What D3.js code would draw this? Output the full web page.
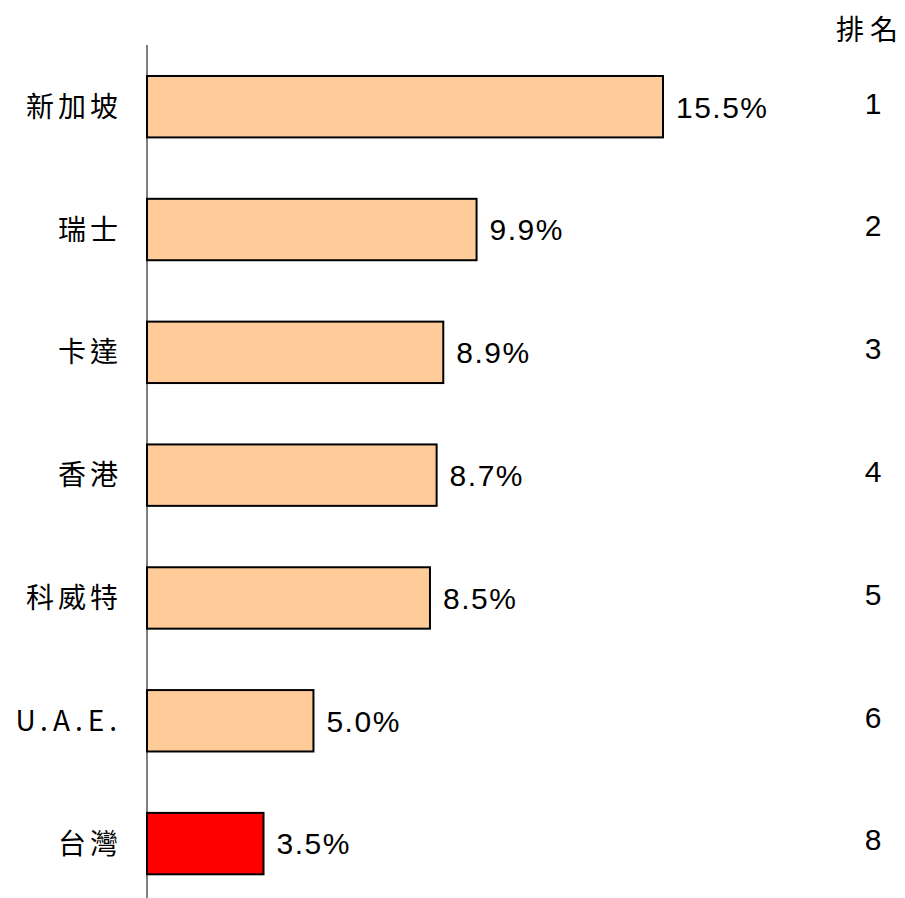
<!DOCTYPE html>
<html>
<head>
<meta charset="utf-8">
<script src="https://cdn.jsdelivr.net/npm/d3@7"></script>
<style>
  html, body { margin: 0; padding: 0; background: #fff; }
  svg { display: block; }
</style>
</head>
<body>
<svg id="chart" width="905" height="898"></svg>
<script>
// Data
const countries = ["新加坡", "瑞士", "卡達", "香港", "科威特", "U.A.E.", "台灣"];
const shares = [15.5, 9.9, 8.9, 8.7, 8.5, 5.0, 3.5];
const ranks = ["1", "2", "3", "4", "5", "6", "8"];
const highlight = "台灣";

const svg = d3.select("#chart");
const W = 905, H = 898;

const x = d3.scaleLinear().domain([0, 16]).range([147, 147 + 16 * 33.29]);
const y = d3.scaleBand().domain(countries).range([45.3, 905]).paddingInner(0.5).paddingOuter(0.25);

const cjk = "'Noto Sans CJK TC', 'Noto Sans CJK SC', sans-serif";
const latin = "'Liberation Sans', Arial, Helvetica, sans-serif";

const rows = countries.map((c, i) => ({ c, v: shares[i], r: ranks[i] }));

// Bars
svg.selectAll("rect.bar").data(rows).join("rect")
  .attr("class", "bar")
  .attr("x", x(0))
  .attr("y", d => y(d.c))
  .attr("width", d => x(d.v) - x(0))
  .attr("height", y.bandwidth())
  .attr("fill", d => d.c === highlight ? "#FF0000" : "#FFCC99")
  .attr("stroke", "#000")
  .attr("stroke-width", 2);

// Vertical axis line
svg.append("line")
  .attr("x1", x(0)).attr("x2", x(0))
  .attr("y1", 45).attr("y2", H)
  .attr("stroke", "#000").attr("stroke-width", 1);

// Category labels
svg.selectAll("text.cat").data(rows).join("text")
  .attr("class", "cat")
  .attr("x", 122)
  .attr("y", d => y(d.c) + y.bandwidth() / 2)
  .attr("dy", "0.36em")
  .attr("text-anchor", "end")
  .attr("font-family", cjk)
  .attr("font-size", 28)
  .attr("letter-spacing", d => d.c === "U.A.E." ? 5 : 4)
  .attr("fill", "#000")
  .text(d => d.c);

// Value labels
svg.selectAll("text.val").data(rows).join("text")
  .attr("class", "val")
  .attr("x", d => x(d.v) + 13)
  .attr("y", d => y(d.c) + y.bandwidth() / 2)
  .attr("dy", "0.36em")
  .attr("font-family", latin)
  .attr("font-size", 30)
  .attr("letter-spacing", 1.5)
  .attr("fill", "#000")
  .text(d => d3.format(".1f")(d.v) + "%");

// Rank column
svg.append("text")
  .attr("x", 836).attr("y", 30)
  .attr("dy", "0.36em")
  .attr("font-family", cjk)
  .attr("font-size", 28)
  .attr("letter-spacing", 6)
  .attr("fill", "#000")
  .text("排名");

svg.selectAll("text.rank").data(rows).join("text")
  .attr("class", "rank")
  .attr("x", 873)
  .attr("y", d => y(d.c) + y.bandwidth() / 2 - 4)
  .attr("dy", "0.36em")
  .attr("text-anchor", "middle")
  .attr("font-family", latin)
  .attr("font-size", 30)
  .attr("fill", "#000")
  .text(d => d.r);
</script>
</body>
</html>
